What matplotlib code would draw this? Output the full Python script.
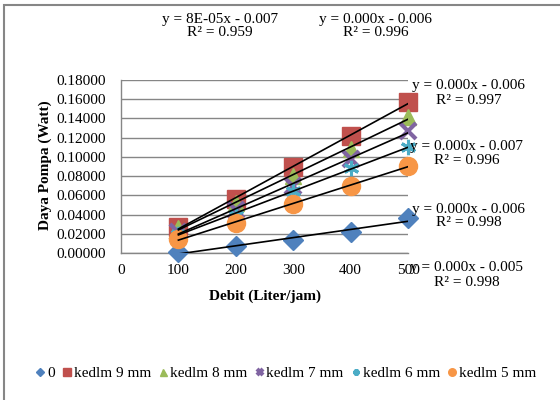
import numpy as np
import matplotlib
matplotlib.use("Agg")
import matplotlib.pyplot as plt
from matplotlib.patches import Rectangle

plt.rcParams['font.family'] = ['Liberation Serif', 'DejaVu Serif']
plt.rcParams['font.size'] = 11

debit = [100, 200, 300, 400, 500]
s0 = [0.001, 0.007, 0.014, 0.022, 0.036]
s9 = [0.027, 0.056, 0.089, 0.122, 0.157]
s8 = [0.026, 0.052, 0.080, 0.108, 0.142]
s7 = [0.022, 0.045, 0.070, 0.098, 0.127]
s6 = [0.020, 0.040, 0.064, 0.088, 0.110]
s5 = [0.015, 0.031, 0.051, 0.070, 0.091]
names = ["0", "kedlm 9 mm", "kedlm 8 mm", "kedlm 7 mm", "kedlm 6 mm", "kedlm 5 mm"]
eqs = ["y = 8E-05x - 0.007\nR² = 0.959", "y = 0.000x - 0.006\nR² = 0.996",
       "y = 0.000x - 0.006\nR² = 0.997", "y = 0.000x - 0.007\nR² = 0.996",
       "y = 0.000x - 0.006\nR² = 0.998", "y = 0.000x - 0.005\nR² = 0.998"]

series = [s0, s9, s8, s7, s6, s5]
colors = ['#4F81BD', '#C0504D', '#9BBB59', '#8064A2', '#4BACC6', '#F79646']
markers = ['D', 's', '^', 'x', (6, 2, 0), 'o']
msizes = [10, 13, 12, 11, 11, 13]

fig = plt.figure(figsize=(5.6, 4), dpi=100)
fig.patches.append(Rectangle((4/560, -0.1), 2, 1 - 5/400 + 0.1, transform=fig.transFigure,
                             fill=False, edgecolor='#868686', linewidth=1.5))
ax = fig.add_axes([121/560, 1 - 253/400, (408-121)/560, (253-80)/400])

x = np.array(debit)
for i, s in enumerate(series):
    mew = 3 if markers[i] == 'x' else (2.2 if markers[i] == (6, 2, 0) else 1)
    ax.plot(debit, s, linestyle='none', marker=markers[i], ms=msizes[i],
            color=colors[i], mec=colors[i], mew=mew, label=names[i], zorder=3,
            clip_on=False)
for s in series:
    k, b = np.polyfit(x, s, 1)
    ax.plot([100, 500], [k*100 + b, k*500 + b], color='black', lw=1.2, zorder=4)

ax.set_xlim(0, 500)
ax.set_ylim(0, 0.18)
ax.set_xticks(range(0, 501, 100))
ax.set_yticks(np.arange(0, 0.1801, 0.02))
ax.yaxis.set_major_formatter(matplotlib.ticker.FormatStrFormatter('%.5f'))
ax.tick_params(length=0, labelsize=11)
ax.tick_params(axis='y', pad=11)
ax.tick_params(axis='x', pad=8)
ax.grid(axis='y', color='#868686', lw=1)
ax.set_axisbelow(True)
for sp in ['top', 'right']:
    ax.spines[sp].set_visible(False)
for sp in ['left', 'bottom']:
    ax.spines[sp].set_color('#868686')
    ax.spines[sp].set_linewidth(1)

fig.text(265/560, 1 - 296/400, "Debit (Liter/jam)", ha='center', va='center', fontweight='bold')
fig.text(45/560, 1 - 165/400, "Daya Pompa (Watt)", ha='center', va='center',
         rotation=90, fontweight='bold')

eq_pos = [(220, 26), (376, 26), (469, 93), (467, 153), (469, 216), (467, 275)]
for (px, py), t in zip(eq_pos, eqs):
    fig.text(px/560, 1 - py/400, t, ha='center', va='center', multialignment='center',
             linespacing=1.1)

handles, labels = ax.get_legend_handles_labels()
leg = fig.legend(handles, labels, loc='center', bbox_to_anchor=(286/560, 1 - 373/400),
                 ncol=6, frameon=False, handlelength=0.6, handletextpad=0.15,
                 columnspacing=0.5, markerscale=0.42, fontsize=11)

fig.savefig("out.png", dpi=100)
